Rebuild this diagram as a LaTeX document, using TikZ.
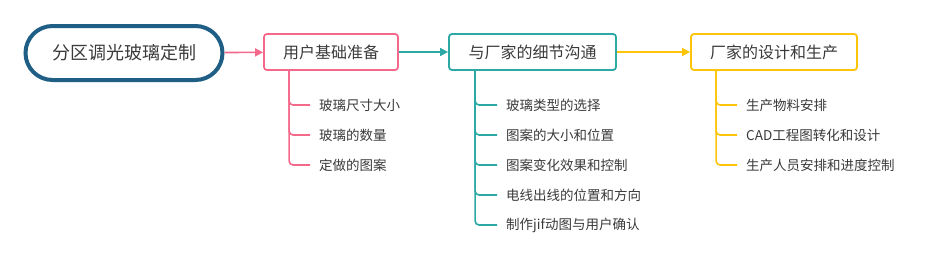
\documentclass[tikz,border=0pt]{standalone}
\usepackage{fontspec}
\newfontfamily\cjk{Noto Sans CJK SC}
\usepackage{tikz}
\usetikzlibrary{arrows.meta,positioning}
\definecolor{azuloscuro}{HTML}{1F5F86}
\definecolor{rosa}{HTML}{F4698A}
\definecolor{turquesa}{HTML}{2CA9A4}
\definecolor{amarillo}{HTML}{FDC40A}
\definecolor{texto}{HTML}{3A3A3A}

\begin{document}
\begin{tikzpicture}[x=1pt,y=-1pt,
    tema/.style={draw=#1,line width=1.8pt,rounded corners=3pt,minimum height=36pt,
                 font=\cjk\fontsize{16}{19}\selectfont,text=texto},
    hoja/.style={anchor=west,inner xsep=9pt,inner ysep=2pt,
                 font=\cjk\fontsize{13.5}{16}\selectfont,text=texto},
    rama/.style={draw=#1,line width=1.6pt,rounded corners=4pt},
    flecha/.style={draw=#1,line width=1.6pt,-{Triangle[length=8pt,width=8pt]}}]
  \useasboundingbox (0,0) rectangle (928,258);
  % nodos principales
  \node[draw=azuloscuro,line width=4pt,rounded corners=27pt,minimum width=197pt,minimum height=54pt,
        font=\cjk\fontsize{18}{21}\selectfont,text=texto] (raiz) at (124,53) {分区调光玻璃定制};
  \node[tema=rosa,minimum width=134pt] (usuario) at (331,52) {用户基础准备};
  \node[tema=turquesa,minimum width=167pt] (comunicacion) at (532.5,52) {与厂家的细节沟通};
  \node[tema=amarillo,minimum width=166pt] (produccion) at (774,52) {厂家的设计和生产};
  \draw[flecha=rosa] (raiz) -- (usuario);
  \draw[flecha=turquesa] (usuario) -- (comunicacion);
  \draw[flecha=amarillo] (comunicacion) -- (produccion);
  % ramas
  \coordinate (usuario-tronco) at ([xshift=26pt]usuario.south west);
  \coordinate (comunicacion-tronco) at ([xshift=27pt]comunicacion.south west);
  \coordinate (produccion-tronco) at ([xshift=26pt]produccion.south west);
  \foreach \i/\txt in {1/玻璃尺寸大小,2/玻璃的数量,3/定做的图案}{
    \node[hoja] (usuario-\i) at (310,75+30*\i) {\txt};
    \draw[rama=rosa] (usuario-tronco) |- (usuario-\i.west);
  }
  \foreach \i/\txt in {1/玻璃类型的选择,2/图案的大小和位置,3/图案变化效果和控制,4/电线出线的位置和方向,5/制作jif动图与用户确认}{
    \node[hoja] (comunicacion-\i) at (497,75+30*\i) {\txt};
    \draw[rama=turquesa] (comunicacion-tronco) |- (comunicacion-\i.west);
  }
  \foreach \i/\txt in {1/生产物料安排,2/CAD工程图转化和设计,3/生产人员安排和进度控制}{
    \node[hoja] (produccion-\i) at (737,75+30*\i) {\txt};
    \draw[rama=amarillo] (produccion-tronco) |- (produccion-\i.west);
  }
\end{tikzpicture}
\end{document}
